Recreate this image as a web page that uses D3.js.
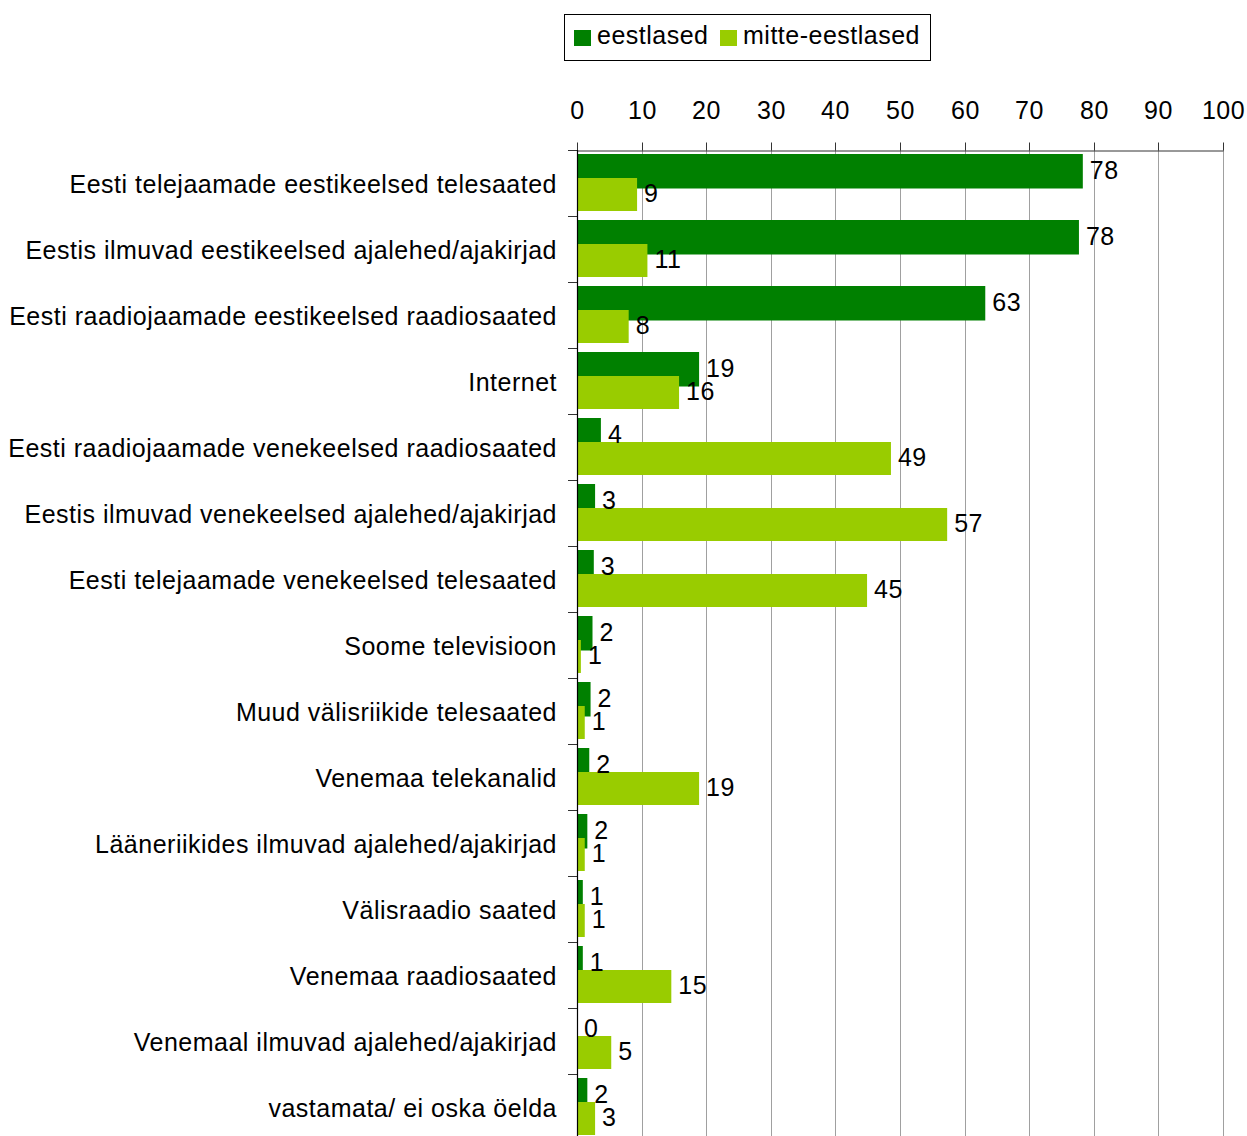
<!DOCTYPE html>
<html>
<head>
<meta charset="utf-8">
<script src="https://cdn.jsdelivr.net/npm/d3@7"></script>
<style>
  html, body { margin: 0; padding: 0; background: #fff; }
  svg { display: block; }
  text { font-family: "Liberation Sans", Arial, sans-serif; font-size: 25px; fill: #000; letter-spacing: 0.5px; }
</style>
</head>
<body>
<svg id="chart" width="1247" height="1136"></svg>
<script>
const categories = [
  "Eesti telejaamade eestikeelsed telesaated",
  "Eestis ilmuvad eestikeelsed ajalehed/ajakirjad",
  "Eesti raadiojaamade eestikeelsed raadiosaated",
  "Internet",
  "Eesti raadiojaamade venekeelsed raadiosaated",
  "Eestis ilmuvad venekeelsed ajalehed/ajakirjad",
  "Eesti telejaamade venekeelsed telesaated",
  "Soome televisioon",
  "Muud välisriikide telesaated",
  "Venemaa telekanalid",
  "Lääneriikides ilmuvad ajalehed/ajakirjad",
  "Välisraadio saated",
  "Venemaa raadiosaated",
  "Venemaal ilmuvad ajalehed/ajakirjad",
  "vastamata/ ei oska öelda"
];
const seriesNames = ["eestlased", "mitte-eestlased"];
const eestlased =      [78.3, 77.7, 63.2, 18.9, 3.7, 2.8, 2.6, 2.4, 2.1, 1.9, 1.6, 0.9, 0.9, 0.0, 1.6];
const mitteEestlased = [9.3, 10.9, 8.0, 15.8, 48.6, 57.3, 44.9, 0.6, 1.2, 18.9, 1.2, 1.2, 14.6, 5.3, 2.8];
const xTicks = [0, 10, 20, 30, 40, 50, 60, 70, 80, 90, 100];
const colors = ["#008000", "#99cc00"];

const svg = d3.select("#chart");
const x = d3.scaleLinear().domain([0, 100]).range([577, 1223]);
const y = d3.scaleBand().domain(categories).range([150, 150 + 66 * categories.length]).padding(0);
const plotBottom = 1136;

// gridlines
svg.append("g").selectAll("line").data(xTicks.slice(1)).join("line")
  .attr("x1", d => Math.round(x(d)) + 0.5).attr("x2", d => Math.round(x(d)) + 0.5)
  .attr("y1", 150).attr("y2", plotBottom)
  .attr("stroke", "#a0a0a0").attr("stroke-width", 1);

// top axis
const xAxis = d3.axisTop(x).tickValues(xTicks).tickSize(8).tickSizeOuter(0).tickPadding(22);
const gx = svg.append("g").attr("transform", "translate(0,150.5)").call(xAxis);
gx.select(".domain").attr("stroke", "#333");
gx.selectAll(".tick line").attr("stroke", "#333");
gx.selectAll(".tick text").attr("font-family", null).attr("font-size", null).attr("fill", "#000")
  .attr("dy", 0).attr("y", -31.5);
gx.selectAll(".tick").attr("transform", d => `translate(${Math.round(x(d)) + 0.5},0)`);

// category ticks
svg.append("g").selectAll("line").data(d3.range(categories.length + 1)).join("line")
  .attr("x1", 568).attr("x2", 577)
  .attr("y1", i => 150 + 66 * i + 0.5).attr("y2", i => 150 + 66 * i + 0.5)
  .attr("stroke", "#333");

// bars
const rows = categories.map((c, i) => ({ c, a: eestlased[i], b: mitteEestlased[i] }));
const g = svg.append("g");
g.selectAll(".bd").data(rows).join("rect").attr("class", "bd")
  .attr("x", x(0)).attr("y", d => y(d.c) + 4)
  .attr("width", d => x(d.a) - x(0)).attr("height", 34.5)
  .attr("fill", colors[0]);
g.selectAll(".bl").data(rows).join("rect").attr("class", "bl")
  .attr("x", x(0)).attr("y", d => y(d.c) + 28)
  .attr("width", d => x(d.b) - x(0)).attr("height", 33)
  .attr("fill", colors[1]);

// vertical axis line
svg.append("line").attr("x1", 577.5).attr("x2", 577.5).attr("y1", 150).attr("y2", plotBottom)
  .attr("stroke", "#000").attr("stroke-width", 1.2);

// value labels
g.selectAll(".ld").data(rows).join("text").attr("class", "ld")
  .attr("x", d => x(d.a) + 7).attr("y", d => y(d.c) + 29)
  .text(d => Math.round(d.a));
g.selectAll(".ll").data(rows).join("text").attr("class", "ll")
  .attr("x", d => x(d.b) + 7).attr("y", d => y(d.c) + 52)
  .text(d => Math.round(d.b));

// category labels
svg.append("g").selectAll("text").data(categories).join("text")
  .attr("x", 557).attr("y", d => y(d) + 43)
  .attr("text-anchor", "end")
  .text(d => d);

// legend
const lg = svg.append("g");
lg.append("rect").attr("x", 564.5).attr("y", 14.5).attr("width", 366).attr("height", 46)
  .attr("fill", "#fff").attr("stroke", "#000").attr("stroke-width", 1);
const legendItems = [
  { name: seriesNames[0], color: colors[0], sx: 574, tx: 597 },
  { name: seriesNames[1], color: colors[1], sx: 720, tx: 743 }
];
legendItems.forEach(it => {
  lg.append("rect").attr("x", it.sx).attr("y", 30).attr("width", 17).attr("height", 16).attr("fill", it.color);
  lg.append("text").attr("x", it.tx).attr("y", 44).text(it.name);
});
</script>
</body>
</html>
